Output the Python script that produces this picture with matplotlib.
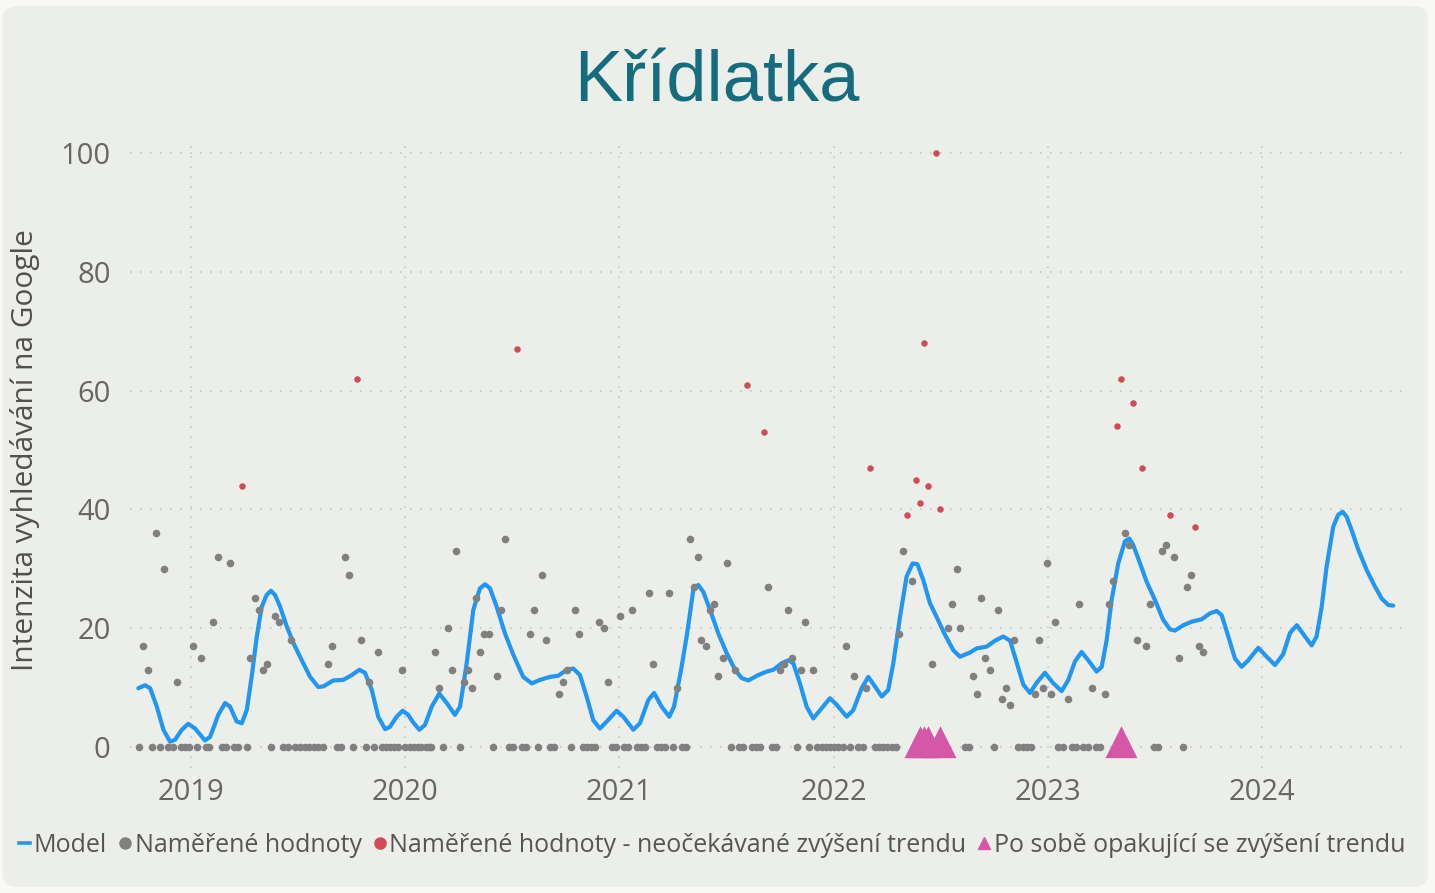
import numpy as np
import matplotlib.pyplot as plt
from matplotlib.path import Path
from matplotlib.patches import FancyBboxPatch
from matplotlib.lines import Line2D

# --- data (x = decimal year) ---
model_x = [2018.754, 2018.785, 2018.809, 2018.840, 2018.871, 2018.902, 2018.925, 2018.957, 2018.987,
           2019.019, 2019.065, 2019.089, 2019.127, 2019.159, 2019.182, 2019.213, 2019.237, 2019.260,
           2019.283, 2019.307, 2019.330, 2019.353, 2019.373, 2019.392, 2019.416, 2019.447, 2019.478,
           2019.517, 2019.556, 2019.594, 2019.618, 2019.664, 2019.711, 2019.750, 2019.786, 2019.812,
           2019.844, 2019.874, 2019.906, 2019.929, 2019.960, 2019.988, 2020.014, 2020.036, 2020.066,
           2020.092, 2020.124, 2020.159, 2020.194, 2020.232, 2020.256, 2020.287, 2020.318, 2020.349,
           2020.373, 2020.396, 2020.427, 2020.466, 2020.505, 2020.551, 2020.591, 2020.629, 2020.676,
           2020.715, 2020.754, 2020.785, 2020.816, 2020.847, 2020.878, 2020.909, 2020.941, 2020.987,
           2021.018, 2021.065, 2021.096, 2021.135, 2021.162, 2021.197, 2021.233, 2021.255, 2021.288,
           2021.314, 2021.345, 2021.368, 2021.392, 2021.423, 2021.462, 2021.501, 2021.540, 2021.571,
           2021.602, 2021.648, 2021.688, 2021.719, 2021.758, 2021.789, 2021.812, 2021.843, 2021.874,
           2021.905, 2021.937, 2021.983, 2022.015, 2022.061, 2022.092, 2022.131, 2022.162, 2022.193,
           2022.225, 2022.255, 2022.279, 2022.310, 2022.341, 2022.369, 2022.391, 2022.419, 2022.450,
           2022.481, 2022.520, 2022.559, 2022.590, 2022.637, 2022.668, 2022.715, 2022.754, 2022.792,
           2022.824, 2022.855, 2022.886, 2022.917, 2022.948, 2022.987, 2023.024, 2023.065, 2023.096,
           2023.127, 2023.158, 2023.189, 2023.228, 2023.252, 2023.275, 2023.298, 2023.329, 2023.360,
           2023.381, 2023.399, 2023.431, 2023.462, 2023.501, 2023.539, 2023.571, 2023.594, 2023.633,
           2023.672, 2023.719, 2023.757, 2023.789, 2023.812, 2023.843, 2023.874, 2023.905, 2023.936,
           2023.983, 2024.022, 2024.061, 2024.099, 2024.131, 2024.163, 2024.201, 2024.232, 2024.255,
           2024.279, 2024.302, 2024.333, 2024.356, 2024.377, 2024.395, 2024.419, 2024.450, 2024.489,
           2024.528, 2024.559, 2024.590, 2024.613]
model_y = [9.9, 10.4, 9.9, 6.8, 2.9, 0.9, 1.2, 2.9, 3.9,
           3.1, 1.1, 1.7, 5.4, 7.4, 6.8, 4.3, 4.0, 6.2,
           11.8, 18.6, 23.6, 25.6, 26.3, 25.6, 23.6, 20.3, 17.5,
           14.6, 11.8, 10.1, 10.2, 11.2, 11.3, 12.1, 13.0, 12.5,
           9.6, 5.1, 3.0, 3.4, 5.1, 6.1, 5.4, 4.2, 2.9,
           3.7, 6.8, 9.0, 7.4, 5.4, 6.8, 14.1, 23.1, 26.7,
           27.4, 26.7, 23.6, 19.1, 15.5, 11.8, 10.7, 11.3, 11.8,
           12.0, 13.0, 13.2, 12.1, 8.5, 4.5, 3.1, 4.3, 6.1,
           5.1, 2.9, 4.0, 7.9, 9.1, 6.8, 5.1, 6.8, 13.0,
           18.6, 26.4, 27.3, 26.1, 23.1, 19.1, 15.8, 13.0, 11.6,
           11.2, 12.1, 12.7, 13.0, 14.1, 14.6, 14.1, 10.7, 6.8,
           4.8, 6.2, 8.2, 7.1, 5.1, 6.2, 9.9, 11.8, 10.2,
           8.5, 9.6, 14.1, 21.9, 28.7, 30.9, 30.8, 28.1, 24.2,
           21.9, 18.9, 16.3, 15.2, 15.9, 16.6, 16.9, 17.9, 18.6,
           17.9, 14.2, 10.5, 9.1, 10.8, 12.5, 10.8, 9.4, 11.3,
           14.4, 16.0, 14.6, 12.7, 13.5, 18.0, 24.7, 30.9, 34.6,
           35.1, 34.0, 30.9, 27.8, 24.7, 21.4, 19.8, 19.6, 20.5,
           21.1, 21.5, 22.5, 22.9, 22.2, 18.6, 14.9, 13.5, 14.6,
           16.7, 15.2, 13.8, 15.6, 19.2, 20.5, 18.6, 17.1, 18.6,
           23.6, 30.4, 37.1, 39.1, 39.6, 38.8, 36.5, 33.2, 29.8,
           27.0, 25.0, 23.9, 23.8]

# naměřené hodnoty (nenulové)
meas_x = [2018.777, 2018.799, 2018.837, 2018.874, 2018.933, 2019.009, 2019.047, 2019.104, 2019.125,
          2019.182, 2019.277, 2019.297, 2019.316, 2019.335, 2019.353, 2019.392, 2019.412, 2019.468,
          2019.641, 2019.660, 2019.719, 2019.738, 2019.795, 2019.832, 2019.872, 2019.987, 2020.139,
          2020.159, 2020.198, 2020.217, 2020.237, 2020.275, 2020.293, 2020.312, 2020.331, 2020.349,
          2020.369, 2020.390, 2020.427, 2020.447, 2020.466, 2020.581, 2020.600, 2020.639, 2020.657,
          2020.717, 2020.735, 2020.754, 2020.791, 2020.811, 2020.906, 2020.927, 2020.945, 2021.003,
          2021.060, 2021.137, 2021.157, 2021.233, 2021.270, 2021.330, 2021.348, 2021.367, 2021.381,
          2021.404, 2021.424, 2021.443, 2021.462, 2021.482, 2021.502, 2021.540, 2021.692, 2021.750,
          2021.768, 2021.789, 2021.807, 2021.846, 2021.865, 2021.904, 2022.057, 2022.095, 2022.153,
          2022.307, 2022.325, 2022.364, 2022.459, 2022.536, 2022.555, 2022.574, 2022.592, 2022.652,
          2022.671, 2022.690, 2022.708, 2022.729, 2022.766, 2022.786, 2022.805, 2022.825, 2022.844,
          2022.939, 2022.961, 2022.978, 2022.996, 2023.016, 2023.035, 2023.093, 2023.147, 2023.206,
          2023.266, 2023.284, 2023.303, 2023.360, 2023.379, 2023.418, 2023.457, 2023.476, 2023.533,
          2023.552, 2023.591, 2023.611, 2023.649, 2023.667, 2023.706, 2023.725]
meas_y = [17, 13, 36, 30, 11, 17, 15, 21, 32,
          31, 15, 25, 23, 13, 14, 22, 21, 18,
          14, 17, 32, 29, 18, 11, 16, 13, 16,
          10, 20, 13, 33, 11, 13, 10, 25, 16,
          19, 19, 12, 23, 35, 19, 23, 29, 18,
          9, 11, 13, 23, 19, 21, 20, 11, 22,
          23, 26, 14, 26, 10, 35, 27, 32, 18,
          17, 23, 24, 12, 15, 31, 13, 27, 13,
          14, 23, 15, 13, 21, 13, 17, 12, 10,
          19, 33, 28, 14, 20, 24, 30, 20, 12,
          9, 25, 15, 13, 23, 8, 10, 7, 18,
          9, 18, 10, 31, 9, 21, 8, 24, 10,
          9, 24, 28, 36, 34, 18, 17, 24, 33,
          34, 32, 15, 27, 29, 17, 16]

# naměřené hodnoty = 0
zero_x = [2018.759, 2018.818, 2018.855, 2018.894, 2018.914, 2018.951, 2018.970, 2018.989, 2019.029,
          2019.068, 2019.086, 2019.143, 2019.163, 2019.201, 2019.221, 2019.260, 2019.372, 2019.431,
          2019.451, 2019.486, 2019.509, 2019.532, 2019.552, 2019.574, 2019.594, 2019.615, 2019.683,
          2019.699, 2019.758, 2019.817, 2019.854, 2019.890, 2019.910, 2019.929, 2019.948, 2019.968,
          2020.001, 2020.021, 2020.040, 2020.059, 2020.076, 2020.095, 2020.113, 2020.120, 2020.178,
          2020.256, 2020.409, 2020.486, 2020.505, 2020.544, 2020.564, 2020.620, 2020.676, 2020.695,
          2020.773, 2020.829, 2020.847, 2020.866, 2020.886, 2020.964, 2020.984, 2021.021, 2021.042,
          2021.081, 2021.099, 2021.120, 2021.174, 2021.194, 2021.214, 2021.252, 2021.291, 2021.311,
          2021.520, 2021.560, 2021.578, 2021.618, 2021.638, 2021.656, 2021.711, 2021.731, 2021.828,
          2021.887, 2021.924, 2021.944, 2021.965, 2021.983, 2022.002, 2022.022, 2022.042, 2022.077,
          2022.115, 2022.136, 2022.193, 2022.213, 2022.232, 2022.251, 2022.271, 2022.291, 2022.613,
          2022.634, 2022.747, 2022.862, 2022.883, 2022.902, 2022.920, 2023.049, 2023.070, 2023.112,
          2023.132, 2023.166, 2023.186, 2023.225, 2023.244, 2023.496, 2023.516, 2023.630]

# neočekávané zvýšení trendu
anom_x = [2019.238, 2019.775, 2020.523, 2021.597, 2021.674, 2022.171, 2022.345, 2022.383, 2022.402,
          2022.421, 2022.441, 2022.478, 2022.498, 2023.323, 2023.342, 2023.399, 2023.438, 2023.572,
          2023.686]
anom_y = [44, 62, 67, 61, 53, 47, 39, 45, 41,
          68, 44, 100, 40, 54, 62, 58, 47, 39,
          37]

# po sobě opakující se zvýšení trendu
rep_x = [2022.403, 2022.422, 2022.442, 2022.498, 2023.342]
rep_y = [0, 0, 0, 0, 0]

years = [2019, 2020, 2021, 2022, 2023, 2024]
yticks = [0, 20, 40, 60, 80, 100]

C_MODEL = '#2196F3'
C_GRAY = '#808080'
C_RED = '#D14B57'
C_PINK = '#D457A8'
C_TEXT = '#666666'

plt.rcParams['font.family'] = ['Open Sans', 'DejaVu Sans']

W, H = 1435, 893
fig = plt.figure(figsize=(W / 100, H / 100), dpi=100)
fig.patch.set_facecolor('#F8F8F6')
card = FancyBboxPatch((0.002, 0.007), 0.993, 0.986, boxstyle='round,pad=0,rounding_size=0.012',
                      transform=fig.transFigure, facecolor='#ECEEEA', edgecolor='none', zorder=-10)
fig.patches.append(card)

ax = fig.add_axes([130 / W, 1 - 768 / H, (1405 - 130) / W, (768 - 140) / H])
ax.set_facecolor('none')
ax.set_xlim(2018.715, 2024.668)
ax.set_ylim(-3.54, 102.2)

ax.set_xticks(years)
ax.set_xticklabels([str(y) for y in years])
ax.set_yticks(yticks)
ax.tick_params(length=0, labelsize=21, colors=C_TEXT)
ax.tick_params(axis='x', pad=7)
ax.tick_params(axis='y', pad=14)
for s in ax.spines.values():
    s.set_visible(False)
ax.grid(True, color='#C6C8C4', linestyle=(0, (1, 5)), linewidth=1.2)
ax.set_axisbelow(True)

# triangle centred on its centroid
tri = Path([(0, 2 / 3), (-0.5, -1 / 3), (0.5, -1 / 3), (0, 2 / 3)],
           [Path.MOVETO, Path.LINETO, Path.LINETO, Path.CLOSEPOLY])

ax.plot(model_x, model_y, color=C_MODEL, linewidth=3, solid_capstyle='round',
        solid_joinstyle='round', zorder=3)
ax.scatter(meas_x, meas_y, s=30, color=C_GRAY, linewidths=0, zorder=4)
ax.scatter(zero_x, [0] * len(zero_x), s=30, color=C_GRAY, linewidths=0, zorder=4)
ax.scatter(anom_x, anom_y, s=22, color=C_RED, linewidths=0, zorder=5)
ax.scatter(rep_x, rep_y, s=940, marker=tri, color=C_PINK, linewidths=0, zorder=6)

fig.text(717 / W, 1 - 83 / H, 'Křídlatka', ha='center', va='center', fontsize=52,
         color='#146C7C', family='Liberation Sans')
fig.text(25 / W, 1 - 450 / H, 'Intenzita vyhledávání na Google', rotation=90,
         ha='center', va='center', fontsize=21.5, color='#505050')

handles = [
    Line2D([], [], color=C_MODEL, linewidth=2.6),
    Line2D([], [], color=C_GRAY, marker='o', linestyle='none', markersize=8),
    Line2D([], [], color=C_RED, marker='o', linestyle='none', markersize=8),
    Line2D([], [], color=C_PINK, marker='^', linestyle='none', markersize=9),
]
labels = ['Model', 'Naměřené hodnoty', 'Naměřené hodnoty - neočekávané zvýšení trendu',
          'Po sobě opakující se zvýšení trendu']
leg = fig.legend(handles, labels, loc='center', bbox_to_anchor=(712 / W, 1 - 845 / H), ncol=4,
                 frameon=False, fontsize=18, handlelength=0.45, handletextpad=0.15,
                 columnspacing=0.5, labelcolor='#555555')

fig.savefig('out.png', dpi=100, facecolor=fig.get_facecolor())
